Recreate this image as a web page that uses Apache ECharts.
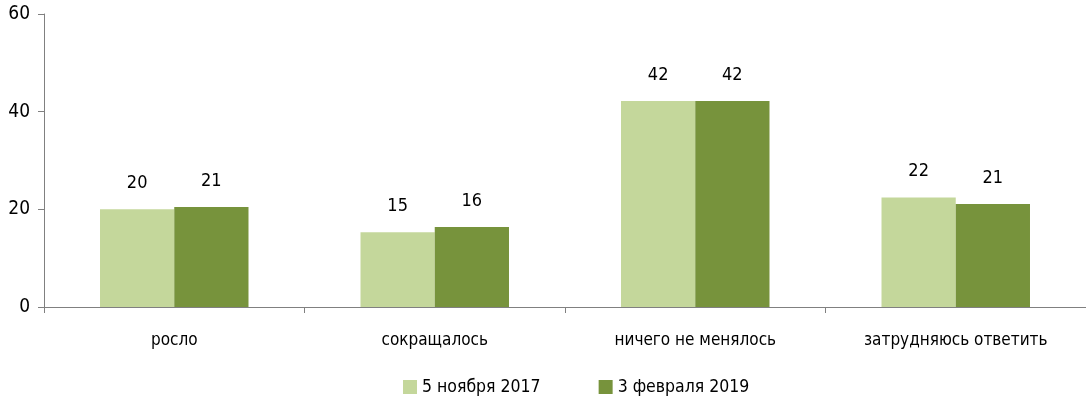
<!DOCTYPE html>
<html>
<head>
<meta charset="utf-8">
<script src="https://cdn.jsdelivr.net/npm/echarts@6/dist/echarts.min.js"></script>
<style>
    html, body {margin: 0; padding: 0; background: #fff;}
    #contain {width: 1086px; height: 403px;}
</style>
</head>
<body>
<div id="contain"></div>
<script>
var categories = ['росло', 'сокращалось', 'ничего не менялось', 'затрудняюсь ответить'];
var seriesNames = ['5 ноября 2017', '3 февраля 2019'];
var nov2017 = [20.0, 15.3, 42.2, 22.4];
var feb2019 = [20.5, 16.4, 42.2, 21.1];
var yTicks = [0, 20, 40, 60];

var font = '"Liberation Sans Narrow", "DejaVu Sans Condensed", sans-serif';
var myChart = echarts.init(document.getElementById('contain'));

function barSeries(name, data, color) {
    return {
        name: name,
        type: 'bar',
        data: data,
        barGap: 0,
        barCategoryGap: '43%',
        itemStyle: {color: color},
        label: {
            show: true,
            position: 'top',
            distance: 17,
            color: '#000',
            fontFamily: font,
            fontSize: 18,
            formatter: function (p) {
                return Math.round(p.value);
            }
        }
    };
}

var option = {
    animation: false,
    backgroundColor: '#fff',
    grid: {left: 44, right: 0, top: 14, bottom: 96},
    legend: {
        bottom: 7,
        left: 403,
        padding: 0,
        itemWidth: 14,
        itemHeight: 14,
        itemGap: 58,
        icon: 'rect',
        textStyle: {fontFamily: font, fontSize: 17.5, color: '#000'},
        data: seriesNames
    },
    xAxis: {
        type: 'category',
        data: categories,
        axisLine: {show: true, lineStyle: {color: '#808080', width: 1}},
        axisTick: {show: true, length: 6, lineStyle: {color: '#808080'}},
        axisLabel: {margin: 25, fontFamily: font, fontSize: 17, color: '#000'},
        splitLine: {show: false}
    },
    yAxis: {
        type: 'value',
        min: yTicks[0],
        max: yTicks[yTicks.length - 1],
        interval: 20,
        axisLine: {show: true, lineStyle: {color: '#808080', width: 1}},
        axisTick: {show: true, length: 6, lineStyle: {color: '#808080'}},
        axisLabel: {margin: 14, fontFamily: font, fontSize: 19, color: '#000'},
        splitLine: {show: false}
    },
    series: [
        barSeries(seriesNames[0], nov2017, '#C4D79B'),
        barSeries(seriesNames[1], feb2019, '#77933C')
    ]
};
myChart.setOption(option);
</script>
</body>
</html>
